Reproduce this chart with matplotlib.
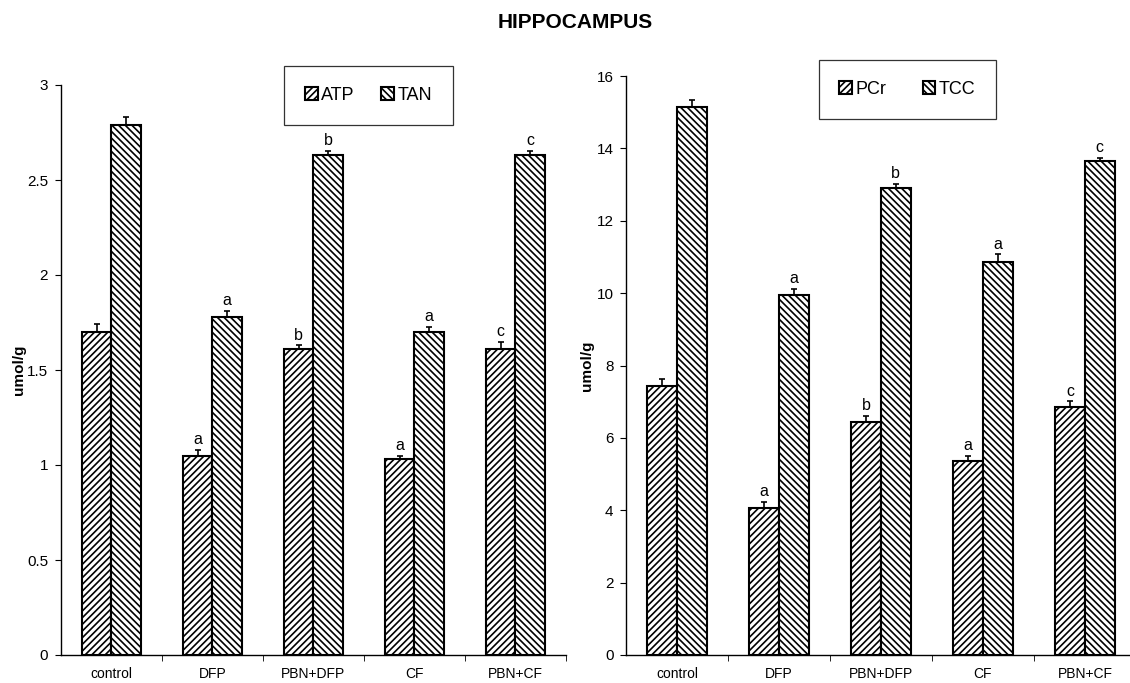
import matplotlib
matplotlib.use('Agg')
import matplotlib.pyplot as plt
import numpy as np

plt.rcParams['font.family'] = ['Liberation Sans', 'DejaVu Sans']
plt.rcParams['hatch.linewidth'] = 1.2

# ---- data ----
categories = ['control', 'DFP', 'PBN+DFP', 'CF', 'PBN+CF']

atp = [1.70, 1.05, 1.61, 1.03, 1.61]
atp_err = [0.04, 0.03, 0.02, 0.02, 0.04]
tan = [2.79, 1.78, 2.63, 1.70, 2.63]
tan_err = [0.04, 0.03, 0.025, 0.025, 0.025]

pcr = [7.44, 4.07, 6.44, 5.35, 6.86]
pcr_err = [0.19, 0.16, 0.17, 0.16, 0.15]
tcc = [15.13, 9.95, 12.91, 10.86, 13.66]
tcc_err = [0.22, 0.16, 0.11, 0.21, 0.08]

atp_sig = ['', 'a', 'b', 'a', 'c']
tan_sig = ['', 'a', 'b', 'a', 'c']
pcr_sig = ['', 'a', 'b', 'a', 'c']
tcc_sig = ['', 'a', 'b', 'a', 'c']

left_yticks = [0, 0.5, 1, 1.5, 2, 2.5, 3]
left_yticklabels = ['0', '0.5', '1', '1.5', '2', '2.5', '3']
right_yticks = [0, 2, 4, 6, 8, 10, 12, 14, 16]
right_yticklabels = ['0', '2', '4', '6', '8', '10', '12', '14', '16']

title = 'HIPPOCAMPUS'
ylabel = 'umol/g'

W, H = 1130, 683
fig = plt.figure(figsize=(W / 100, H / 100), dpi=100)


def panel(ax, s1, e1, sig1, n1, s2, e2, sig2, n2, ymax, yt, ytl, leg_anchor,
          colspace, label_x):
    x = np.arange(len(categories))
    w = 0.29
    ax.bar(x - w / 2, s1, w, facecolor='white', edgecolor='black',
           hatch='/////', linewidth=1.5, label=n1, zorder=2)
    ax.bar(x + w / 2, s2, w, facecolor='white', edgecolor='black',
           hatch='\\\\\\\\\\', linewidth=1.5, label=n2, zorder=2)
    z = np.zeros(len(x))
    for xs, vals, errs, sigs in ((x - w / 2, s1, e1, sig1), (x + w / 2, s2, e2, sig2)):
        ax.errorbar(xs, vals, yerr=[z, errs], fmt='none', ecolor='black',
                    elinewidth=1.2, capsize=2.5, capthick=1.2, zorder=3)
        for xi, v, e, s in zip(xs, vals, errs, sigs):
            if s:
                ax.annotate(s, (xi, v + e), xytext=(0, 2), textcoords='offset points',
                            ha='center', va='bottom', fontsize=11.5)
    ax.set_xlim(-0.5, len(categories) - 0.5)
    ax.set_ylim(0, ymax)
    ax.set_yticks(yt)
    ax.set_yticklabels(ytl, fontsize=11)
    ax.set_xticks(x)
    ax.set_xticklabels(categories, fontsize=10)
    ax.set_xticks(np.arange(len(categories)) + 0.5, minor=True)
    ax.tick_params(axis='x', which='major', length=0, pad=9)
    ax.tick_params(axis='x', which='minor', length=4, direction='out')
    ax.tick_params(axis='y', length=4, direction='out', pad=5)
    for sp in ('top', 'right'):
        ax.spines[sp].set_visible(False)
    for sp in ('left', 'bottom'):
        ax.spines[sp].set_linewidth(1.0)
    ax.set_ylabel(ylabel, fontsize=11, fontweight='bold')
    ax.yaxis.set_label_coords(label_x, 0.5)
    leg = ax.legend(ncol=2, loc='center', bbox_to_anchor=leg_anchor, fontsize=13,
                    frameon=True, fancybox=False, edgecolor='black',
                    handlelength=0.7, handleheight=0.7, handletextpad=0.2,
                    columnspacing=colspace, borderpad=1.15)
    leg.get_frame().set_linewidth(0.9)


ax1 = fig.add_axes([60.7 / W, 28 / H, 505.3 / W, 570 / H])
panel(ax1, atp, atp_err, atp_sig, 'ATP', tan, tan_err, tan_sig, 'TAN',
      3, left_yticks, left_yticklabels, (0.609, 0.982), 1.45, -0.068)

ax2 = fig.add_axes([626 / W, 28 / H, 510 / W, 579 / H])
panel(ax2, pcr, pcr_err, pcr_sig, 'PCr', tcc, tcc_err, tcc_sig, 'TCC',
      16, right_yticks, right_yticklabels, (0.552, 0.977), 2.0, -0.062)

fig.text(575 / W, 1 - 23 / H, title, ha='center', va='center',
         fontsize=15, fontweight='bold')

fig.savefig('out.png', dpi=100)
